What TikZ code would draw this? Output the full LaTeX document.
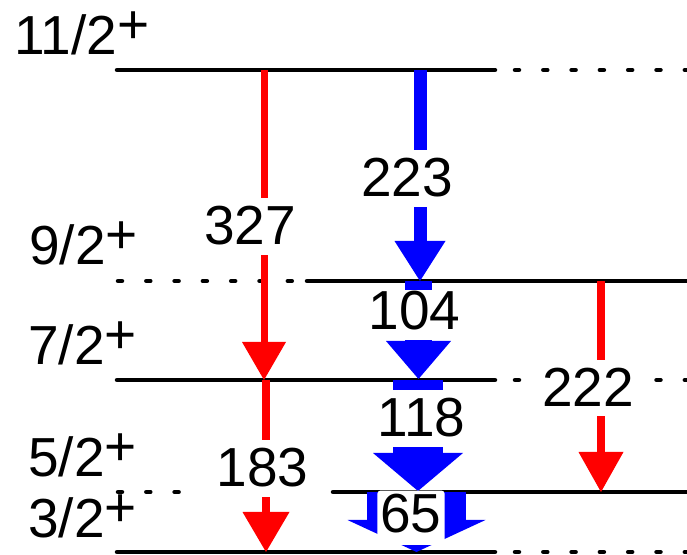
\documentclass[tikz,border=0pt]{standalone}
\usepackage{fontspec}
\setmainfont{Liberation Sans}
\usetikzlibrary{arrows.meta}
\begin{document}
\begin{tikzpicture}[x=0.5pt,y=-0.5pt,
  lvl/.style={line width=2.25pt, line cap=round},
  dotlvl/.style={line width=2.25pt, line cap=round, dash pattern=on 2pt off 12.15pt},
  lbl/.style={fill=white, inner sep=4.5pt, anchor=base, font=\fontsize{27.5pt}{30pt}\selectfont},
  spin/.style={inner sep=0pt, anchor=base west, font=\fontsize{27.5pt}{30pt}\selectfont},
  redarr/.style={red, line width=#1},
  bluearr/.style={blue, line width=#1},
]
\useasboundingbox (0,0) rectangle (687,555);
% level coordinates
\coordinate (A1) at (117,70);  \coordinate (A2) at (495,70);
\coordinate (A3) at (515,70);  \coordinate (A4) at (692,70);
\coordinate (B1) at (118,281); \coordinate (B2) at (293,281);
\coordinate (B3) at (307,281); \coordinate (B4) at (692,281);
\coordinate (C1) at (117,380); \coordinate (C2) at (495,380);
\coordinate (C3) at (515,380); \coordinate (C4) at (692,380);
\coordinate (D1) at (118,492); \coordinate (D2) at (181,492);
\coordinate (D3) at (333,492); \coordinate (D4) at (692,492);
\coordinate (E1) at (117,552); \coordinate (E2) at (495,552);
\coordinate (E3) at (515,552); \coordinate (E4) at (692,552);
% levels
\draw[lvl] (A1) -- (A2);
\draw[dotlvl] (A3) -- (A4);
\draw[dotlvl] (B1) -- (B2);
\draw[lvl] (B3) -- (B4);
\draw[lvl] (C1) -- (C2);
\draw[dotlvl] (C3) -- (C4);
\draw[dotlvl] (D1) -- (D2);
\draw[lvl] (D3) -- (D4);
\draw[lvl] (E1) -- (E2);
\draw[dotlvl] (E3) -- (E4);
% spin labels
\node[spin] (s11) at (14,55) {11/2\raisebox{5.5pt}{+}};
\node[spin] (s9) at (29,265) {9/2\raisebox{5.5pt}{+}};
\node[spin] (s7) at (28,365) {7/2\raisebox{5.5pt}{+}};
\node[spin] (s5) at (28,477) {5/2\raisebox{5.5pt}{+}};
\node[spin] (s3) at (28,538) {3/2\raisebox{5.5pt}{+}};
% transition coordinates
\coordinate (r1s) at (264,70);    \coordinate (r1e) at (264,380);
\coordinate (r2s) at (266,380);   \coordinate (r2e) at (266,552);
\coordinate (r3s) at (601,281);   \coordinate (r3e) at (601,492);
\coordinate (b1s) at (420,70);    \coordinate (b1e) at (420,281);
\coordinate (b2s) at (418.5,281); \coordinate (b2e) at (418.5,379);
\coordinate (b3s) at (418,380);   \coordinate (b3e) at (418,491);
\coordinate (b4s) at (416.5,492); \coordinate (b4e) at (416.5,552);
% transitions
\draw[redarr=3.5pt, -{Triangle[width=22pt,length=19pt,line width=0pt]}] (r1s) -- (r1e);
\draw[redarr=4pt, -{Triangle[width=23.5pt,length=20pt,line width=0pt]}] (r2s) -- (r2e);
\draw[redarr=4pt, -{Triangle[width=22.5pt,length=20pt,line width=0pt]}] (r3s) -- (r3e);
\draw[bluearr=6.5pt, -{Triangle[width=25.5pt,length=20pt,line width=0pt]}] (b1s) -- (b1e);
\draw[bluearr=13.5pt, -{Triangle[width=32.5pt,length=19pt,line width=0pt]}] (b2s) -- (b2e);
\draw[bluearr=25pt, -{Triangle[width=45pt,length=19pt,line width=0pt]}] (b3s) -- (b3e);
\draw[bluearr=49.5pt, -{Triangle[width=69pt,length=16pt,line width=0pt]}] (b4s) -- (b4e);
% energy labels
\node[lbl] (e327) at (250,245) {327};
\node[lbl] (e183) at (262.5,487) {183};
\node[lbl] (e222) at (588,407) {222};
\node[lbl] (e223) at (407,197) {223};
\node[lbl, inner ysep=1pt, text depth=4pt] (e104) at (414.5,330) {104};
\node[lbl, text depth=0.5pt] (e118) at (421.5,437) {118};
\node[lbl, inner xsep=1.5pt, inner ysep=2pt, text depth=4pt, rounded corners=1.5pt] (e65) at (411,533) {65};
\end{tikzpicture}
\end{document}
